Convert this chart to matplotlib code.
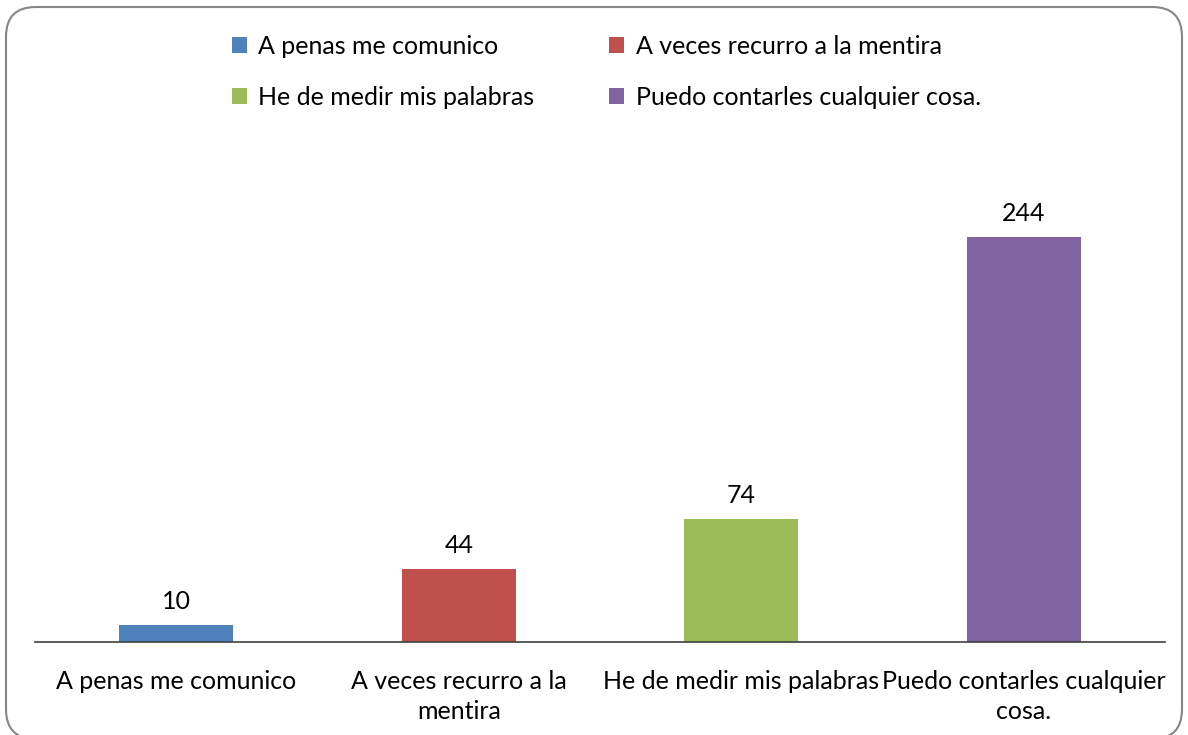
import matplotlib
matplotlib.use("Agg")
import matplotlib.pyplot as plt
from matplotlib.patches import FancyBboxPatch

plt.rcParams['font.family'] = ['Lato', 'DejaVu Sans']

categories = ["A penas me comunico", "A veces recurro a la mentira",
              "He de medir mis palabras", "Puedo contarles cualquier cosa."]
tick_labels = ["A penas me comunico", "A veces recurro a la\nmentira",
               "He de medir mis palabras", "Puedo contarles cualquier\ncosa."]
values = [10, 44, 74, 244]
colors = ['#4f81bd', '#c0504d', '#9bbb59', '#8064a2']

W, H = 1188, 735
fig = plt.figure(figsize=(W / 100, H / 100), dpi=100)
fs = 18

# rounded frame around the whole chart
frame = FancyBboxPatch((6 / W, -4 / H), 1176 / W, 732 / H,
                       boxstyle="round,pad=0,rounding_size=0.025",
                       transform=fig.transFigure, facecolor='none',
                       edgecolor='#868686', linewidth=1.5, mutation_aspect=W / H)
fig.patches.append(frame)

ymax = 300
ax = fig.add_axes([35 / W, (H - 642) / H, 1130 / W, ymax * 1.66 / H])
x = range(len(values))
bars = ax.bar(x, values, width=0.403, color=colors)
ax.set_xlim(-0.5, 3.5)
ax.set_ylim(0, ymax)

for b, v in zip(bars, values):
    ax.annotate(str(v), (b.get_x() + b.get_width() / 2, v), xytext=(0, 12),
                textcoords='offset pixels', ha='center', va='bottom',
                fontsize=fs, color='#000000')

ax.set_xticks(list(x))
ax.set_xticklabels(tick_labels, fontsize=fs, linespacing=1.4)
ax.tick_params(axis='x', length=0, pad=20)
ax.set_yticks([])
for s in ['top', 'right', 'left']:
    ax.spines[s].set_visible(False)
ax.spines['bottom'].set_color('#404040')
ax.spines['bottom'].set_linewidth(1.2)

order = [0, 2, 1, 3]
fig.legend([bars[i] for i in order], [categories[i] for i in order],
           loc='upper left', bbox_to_anchor=(232 / W, 1 - 35 / H), ncol=2,
           frameon=False, fontsize=fs, handlelength=0.6, handleheight=0.6,
           handletextpad=0.45, labelspacing=1.12, columnspacing=3.0,
           borderpad=0, borderaxespad=0)

fig.savefig("out.png", dpi=100)
